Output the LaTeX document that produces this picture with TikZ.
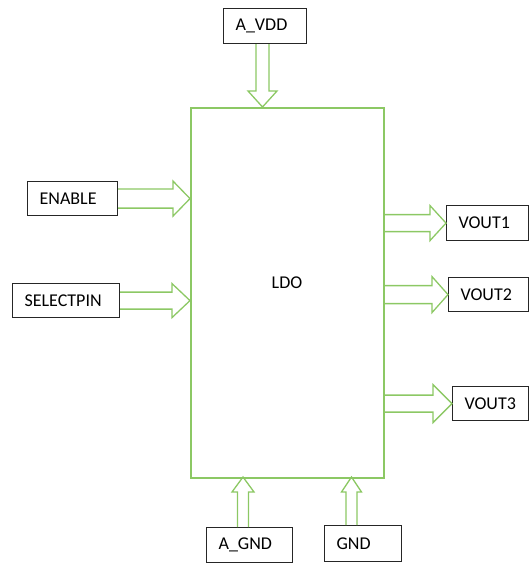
\documentclass[tikz,border=0pt]{standalone}
\usepackage{fontspec}
\setmainfont{Carlito}
\usetikzlibrary{calc}

\definecolor{ldogreen}{RGB}{140,200,100}

\tikzset{
  pinbox/.style={draw=black!85, line width=1.2pt, anchor=north west, inner xsep=12pt, inner ysep=0pt, align=left, font=\fontsize{18}{20}\selectfont},
  blockarrow/.style={draw=ldogreen, line width=1.3pt, line join=miter},
}

\begin{document}
\begin{tikzpicture}[x=1pt,y=-1pt]
\useasboundingbox (0,0) rectangle (529,569);

% regulator block
\node[draw=ldogreen, line width=1.6pt, anchor=north west, minimum width=193pt, minimum height=370pt, inner sep=0pt] (ldo) at (190,107) {};
\node[font=\fontsize{18}{20}\selectfont] (ldolabel) at (287,283) {LDO};

% pins
\node[pinbox, text width=59pt, minimum height=35pt] (avdd) at (223,8) {A\_VDD};
\node[pinbox, text width=66pt, minimum height=34pt] (enable) at (27,181) {ENABLE};
\node[pinbox, text width=83pt, minimum height=34pt] (selpin) at (12,283) {SELECTPIN};
\node[pinbox, text width=58pt, minimum height=35pt] (vout1) at (446,205) {VOUT1};
\node[pinbox, text width=56pt, minimum height=34pt] (vout2) at (448,277) {VOUT2};
\node[pinbox, text width=52pt, minimum height=34pt] (vout3) at (452,386) {VOUT3};
\node[pinbox, text width=62pt, minimum height=35pt] (agnd) at (206,527) {A\_GND};
\node[pinbox, text width=53pt, minimum height=36pt] (gnd) at (324,525) {GND};

% supply in
\coordinate (vddtip) at (262.5,107);
\draw[blockarrow] let \p1=(vddtip), \p2=(avdd.south) in (\x1-6.5pt,\y2) -- (\x1-6.5pt,\y1+16pt) -- (\x1-14.5pt,\y1+16pt) -- (\x1,\y1) -- (\x1+14.5pt,\y1+16pt) -- (\x1+6.5pt,\y1+16pt) -- (\x1+6.5pt,\y2);

% control inputs
\draw[blockarrow] let \p1=(enable.east), \p2=(ldo.west) in (\x1,\y1+9.5pt) -- (\x2-17pt,\y1+9.5pt) -- (\x2-17pt,\y1+17.5pt) -- (\x2,\y1) -- (\x2-17pt,\y1-17.5pt) -- (\x2-17pt,\y1-9.5pt) -- (\x1,\y1-9.5pt);
\draw[blockarrow] let \p1=(selpin.east), \p2=(ldo.west) in (\x1,\y1+8.5pt) -- (\x2-18pt,\y1+8.5pt) -- (\x2-18pt,\y1+17pt) -- (\x2,\y1) -- (\x2-18pt,\y1-17pt) -- (\x2-18pt,\y1-8.5pt) -- (\x1,\y1-8.5pt);

% outputs
\draw[blockarrow] let \p1=(ldo.east), \p2=(vout1.west) in (\x1,\y2+8.5pt) -- (\x2-16pt,\y2+8.5pt) -- (\x2-16pt,\y2+17.5pt) -- (\x2,\y2) -- (\x2-16pt,\y2-17.5pt) -- (\x2-16pt,\y2-8.5pt) -- (\x1,\y2-8.5pt);
\draw[blockarrow] let \p1=(ldo.east), \p2=(vout2.west) in (\x1,\y2+9pt) -- (\x2-16pt,\y2+9pt) -- (\x2-16pt,\y2+18pt) -- (\x2,\y2) -- (\x2-16pt,\y2-18pt) -- (\x2-16pt,\y2-9pt) -- (\x1,\y2-9pt);
\draw[blockarrow] let \p1=(ldo.east), \p2=(vout3.west) in (\x1,\y2+8.5pt) -- (\x2-19pt,\y2+8.5pt) -- (\x2-19pt,\y2+19pt) -- (\x2,\y2) -- (\x2-19pt,\y2-19pt) -- (\x2-19pt,\y2-8.5pt) -- (\x1,\y2-8.5pt);

% grounds
\coordinate (agndtip) at (243,477);
\draw[blockarrow] let \p1=(agndtip), \p2=(agnd.north) in (\x1-5.5pt,\y2) -- (\x1-5.5pt,\y1-15pt) -- (\x1-11pt,\y1-15pt) -- (\x1,\y1) -- (\x1+11pt,\y1-15pt) -- (\x1+5.5pt,\y1-15pt) -- (\x1+5.5pt,\y2);
\coordinate (gndtip) at (351.5,477);
\draw[blockarrow] let \p1=(gndtip), \p2=(gnd.north) in (\x1-5.5pt,\y2) -- (\x1-5.5pt,\y1-15pt) -- (\x1-10pt,\y1-15pt) -- (\x1,\y1) -- (\x1+10pt,\y1-15pt) -- (\x1+5.5pt,\y1-15pt) -- (\x1+5.5pt,\y2);
\end{tikzpicture}
\end{document}
